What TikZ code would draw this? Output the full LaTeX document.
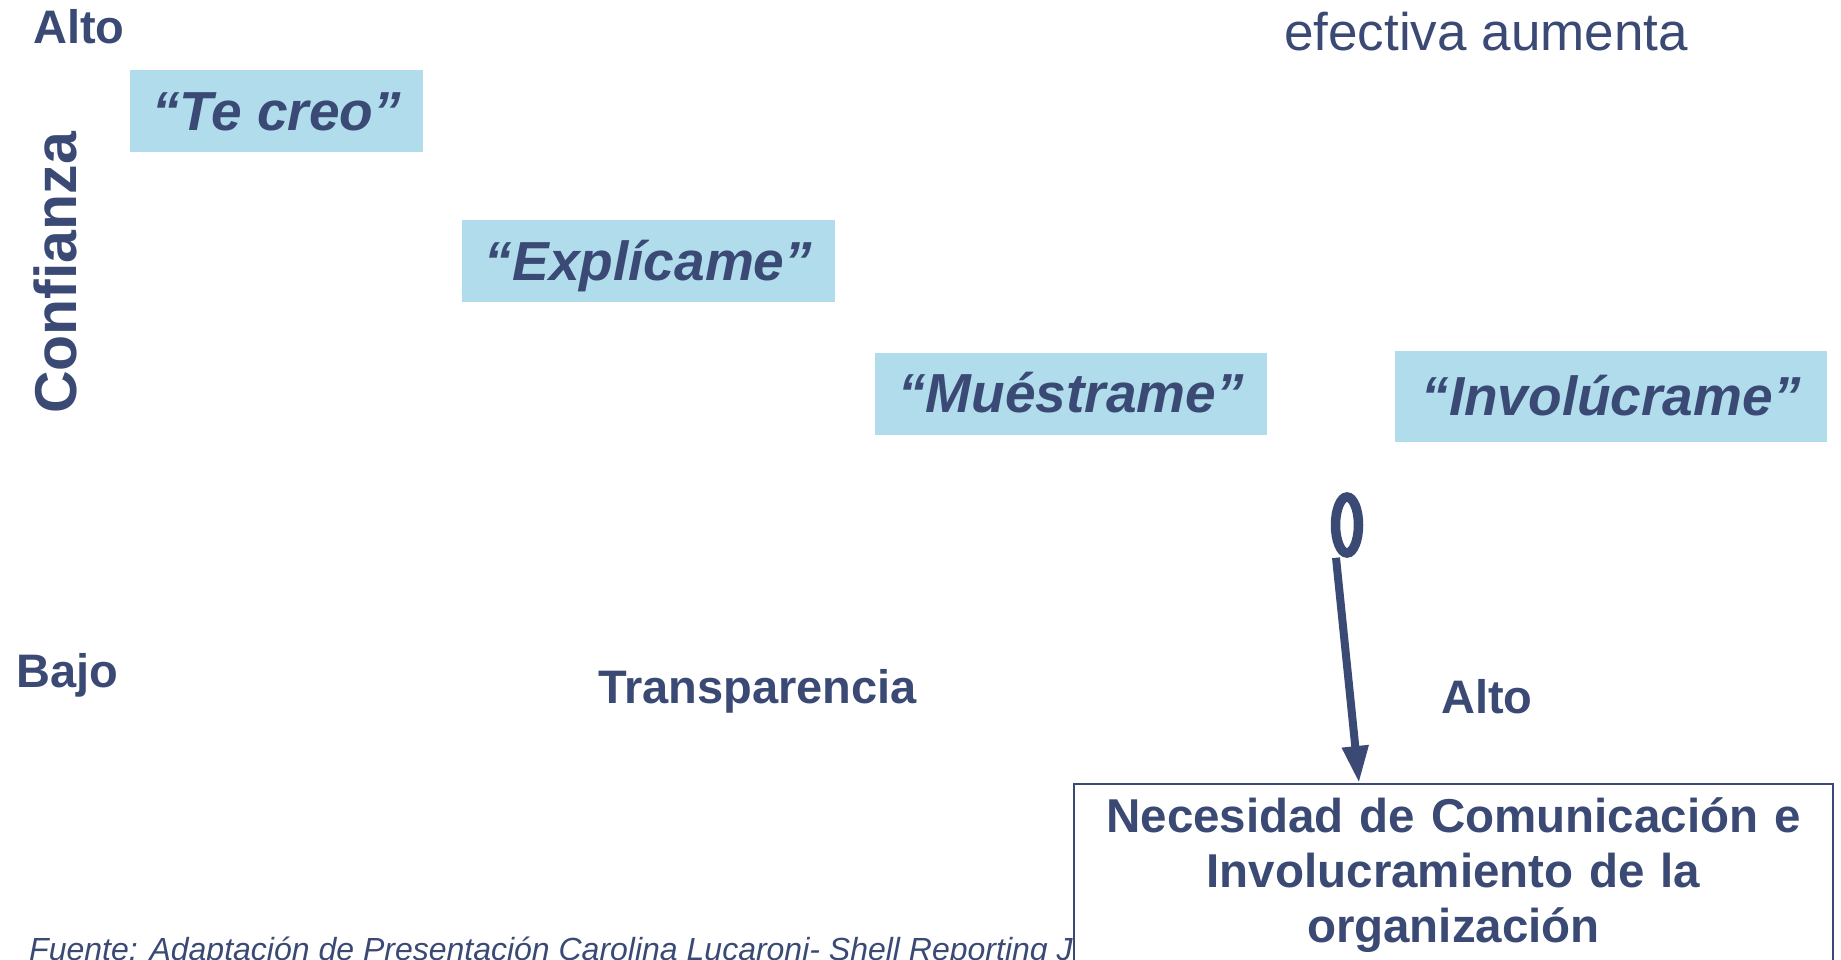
\documentclass[tikz,border=0pt]{standalone}
\usepackage{fontspec}
\setmainfont{Liberation Sans}
\usetikzlibrary{arrows.meta,shapes.geometric}
\definecolor{azul}{HTML}{3A4A74}
\definecolor{celeste}{HTML}{B0DCEC}
\tikzset{
  etiqueta/.style={text=azul,inner sep=0pt,anchor=base west,font=\bfseries\fontsize{47}{56}\selectfont},
  cita/.style={fill=celeste,text=azul,inner sep=0pt,minimum height=82pt,text height=50pt,text depth=12pt,font=\bfseries\itshape\fontsize{55}{66}\selectfont},
}
\begin{document}
\begin{tikzpicture}[x=1pt,y=-1pt]
		\useasboundingbox (0,0) rectangle (1841,959);
		\clip (0,0) rectangle (1841,959);

		% ejes
		\node[etiqueta] (altoy) at (33,43) {Alto};
		\node[etiqueta] (bajo) at (16,687) {Bajo};
		\node[etiqueta] (transp) at (598,703) {Transparencia};
		\node[etiqueta] (altox) at (1441,713) {Alto};
		\node[etiqueta,rotate=90,font=\bfseries\fontsize{59}{70}\selectfont] (confianza) at (76,414) {Confianza};
		\node[text=azul,inner sep=0pt,anchor=base west,font=\fontsize{53}{64}\selectfont] (efectiva) at (1284,50) {efectiva aumenta};

		% niveles
		\node[cita,minimum width=293pt] (tecreo) at (276.5,111) {“Te creo”};
		\node[cita,minimum width=373pt] (explicame) at (648.5,261) {“Explícame”};
		\node[cita,minimum width=392pt] (muestrame) at (1071,393.5) {“Muéstrame”};
		\node[cita,minimum width=432pt,minimum height=91pt] (involucrame) at (1611,396.5) {“Involúcrame”};

		\node[ellipse,draw=azul,line width=9.5pt,minimum width=23pt,minimum height=56pt,inner sep=0pt] (cero) at (1347,525) {};

		\node[text=azul,inner sep=0pt,anchor=base west,font=\itshape\fontsize{32}{38}\selectfont] (fuente) at (29,960) {Fuente: Adaptación de Presentación Carolina Lucaroni- Shell Reporting J};

		\node[draw=azul,line width=2pt,fill=white,text=azul,anchor=north,minimum width=759pt,text width=739pt,inner xsep=10pt,inner ysep=14pt,align=center,font=\bfseries\fontsize{47.5}{55}\selectfont] (necesidad) at (1453.5,783) {Necesidad de Comunicación e\\ Involucramiento de la\\ organización};

		\coordinate (punta) at (1359,783);
		\draw[azul,line width=8pt,-{Triangle[length=37pt,width=25pt]}] ([xshift=-11pt]cero.south) -- (punta);
	\end{tikzpicture}
\end{document}
